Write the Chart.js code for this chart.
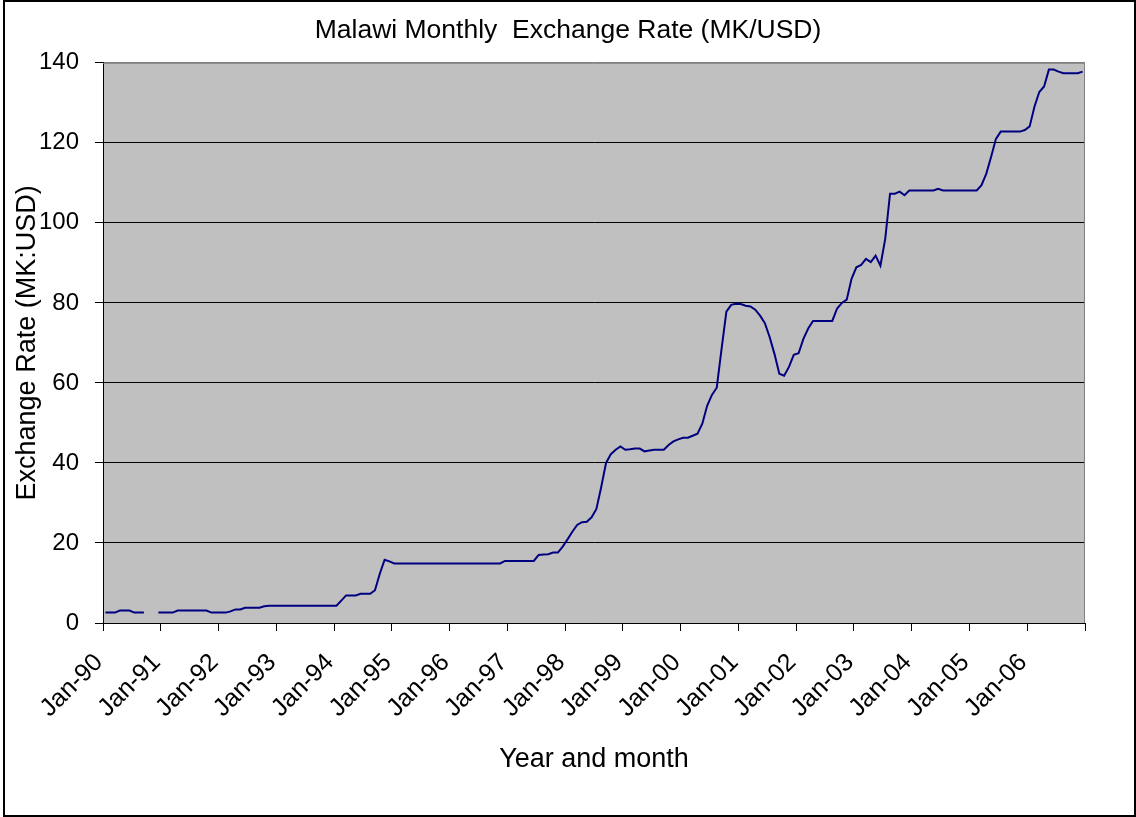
<!DOCTYPE html>
<html>
<head>
<meta charset="utf-8">
<title>Malawi Monthly Exchange Rate</title>
<script src="https://cdn.jsdelivr.net/npm/chart.js@4.4.1/dist/chart.umd.min.js"></script>
<style>
    body { margin: 0; background: #fff; }
    canvas { display: block; }
</style>
</head>
<body>
<canvas id="myChart" width="1136" height="817"></canvas>
<script>
// monthly MK per USD, Jan..Dec of each year (null = no data)
const rates1990 = [2.6, 2.6, 2.6, 3.1, 3.1, 3.1, 2.6, 2.6, 2.6, null, null, 2.6];
const rates1991 = [2.6, 2.6, 2.6, 3.1, 3.1, 3.1, 3.1, 3.1, 3.1, 3.1, 2.6, 2.6];
const rates1992 = [2.6, 2.6, 2.9, 3.4, 3.4, 3.8, 3.8, 3.8, 3.8, 4.2, 4.3, 4.3];
const rates1993 = [4.3, 4.3, 4.3, 4.3, 4.3, 4.3, 4.3, 4.3, 4.3, 4.3, 4.3, 4.3];
const rates1994 = [4.3, 5.6, 6.9, 6.9, 6.9, 7.3, 7.3, 7.3, 8.2, 12.3, 15.8, 15.4];
const rates1995 = [14.9, 14.9, 14.9, 14.9, 14.9, 14.9, 14.9, 14.9, 14.9, 14.9, 14.9, 14.9];
const rates1996 = [14.9, 14.9, 14.9, 14.9, 14.9, 14.9, 14.9, 14.9, 14.9, 14.9, 14.9, 15.5];
const rates1997 = [15.5, 15.5, 15.5, 15.5, 15.5, 15.5, 17.0, 17.1, 17.2, 17.6, 17.6, 19.1];
const rates1998 = [20.9, 22.8, 24.5, 25.2, 25.3, 26.4, 28.5, 34.0, 40.0, 42.2, 43.3, 44.1];
const rates1999 = [43.3, 43.4, 43.6, 43.6, 42.9, 43.1, 43.3, 43.3, 43.3, 44.5, 45.4, 45.9];
const rates2000 = [46.3, 46.3, 46.8, 47.3, 49.8, 54.3, 57.0, 58.8, 68.5, 77.8, 79.5, 79.8];
const rates2001 = [79.7, 79.3, 79.1, 78.3, 76.8, 74.9, 71.4, 67.2, 62.3, 61.8, 64.0, 67.0];
const rates2002 = [67.4, 71.0, 73.6, 75.5, 75.5, 75.5, 75.5, 75.5, 78.6, 80.0, 80.8, 86.0];
const rates2003 = [88.9, 89.5, 91.0, 90.2, 91.8, 89.3, 96.0, 107.3, 107.3, 107.8, 106.9, 108.1];
const rates2004 = [108.1, 108.1, 108.1, 108.1, 108.1, 108.5, 108.1, 108.1, 108.1, 108.1, 108.1, 108.1];
const rates2005 = [108.1, 108.1, 109.4, 112.3, 116.5, 121.0, 122.8, 122.8, 122.8, 122.8, 122.8, 123.2];
const rates2006 = [124.1, 129.0, 132.7, 134.1, 138.3, 138.3, 137.8, 137.4, 137.4, 137.4, 137.4, 137.8];

const yearLabels = ['Jan-90', 'Jan-91', 'Jan-92', 'Jan-93', 'Jan-94', 'Jan-95', 'Jan-96', 'Jan-97', 'Jan-98',
    'Jan-99', 'Jan-00', 'Jan-01', 'Jan-02', 'Jan-03', 'Jan-04', 'Jan-05', 'Jan-06'];
const yTicks = [0, 20, 40, 60, 80, 100, 120, 140];

const FONT = '"Liberation Sans", Arial, sans-serif';

document.addEventListener('DOMContentLoaded', () => {
    const allRates = [].concat(rates1990, rates1991, rates1992, rates1993, rates1994, rates1995,
        rates1996, rates1997, rates1998, rates1999, rates2000, rates2001, rates2002, rates2003,
        rates2004, rates2005, rates2006);

    // each month sits in the middle of its slot, like Excel's date axis
    const points = allRates.map((v, i) => ({ x: i + 0.5, y: v }));
    const months = allRates.length;

    // gray plot area with the thin border on top/right, plus the outer frame
    const frame = {
        id: 'frame',
        beforeDraw(chart) {
            const { ctx, chartArea: a } = chart;
            ctx.save();
            ctx.fillStyle = '#c0c0c0';
            ctx.fillRect(a.left, a.top, a.right - a.left, a.bottom - a.top);
            ctx.restore();
        },
        beforeDatasetsDraw(chart) {
            const { ctx, chartArea: a } = chart;
            ctx.save();
            ctx.strokeStyle = '#808080';
            ctx.lineWidth = 1;
            ctx.beginPath();
            ctx.moveTo(a.left, a.top + 0.5);
            ctx.lineTo(a.right - 0.5, a.top + 0.5);
            ctx.lineTo(a.right - 0.5, a.bottom);
            ctx.stroke();
            ctx.restore();
        },
        afterDraw(chart) {
            const ctx = chart.ctx;
            ctx.save();
            ctx.strokeStyle = '#000';
            ctx.lineWidth = 2;
            ctx.strokeRect(4, 1, 1131, 815);
            ctx.restore();
        }
    };

    const ctx = document.getElementById('myChart').getContext('2d');
    new Chart(ctx, {
        type: 'line',
        data: {
            datasets: [{
                label: 'MK/USD',
                data: points,
                borderColor: '#000080',
                borderWidth: 2,
                pointRadius: 0,
                tension: 0,
                spanGaps: false
            }]
        },
        options: {
            responsive: false,
            animation: false,
            devicePixelRatio: 1,
            layout: { padding: 0 },
            plugins: {
                legend: { display: false },
                tooltip: { enabled: false },
                title: {
                    display: true,
                    text: 'Malawi Monthly  Exchange Rate (MK/USD)',
                    color: '#000',
                    font: { family: FONT, size: 26.5, weight: 'normal' },
                    padding: { top: 15, bottom: 16 }
                }
            },
            scales: {
                x: {
                    type: 'linear',
                    min: 0,
                    max: months,
                    afterFit(scale) { scale.height = 194; },
                    border: { color: '#000', width: 1 },
                    grid: {
                        drawOnChartArea: false,
                        tickLength: 8,
                        color: '#000'
                    },
                    ticks: {
                        stepSize: 12,
                        autoSkip: false,
                        minRotation: 45,
                        maxRotation: 45,
                        padding: 17,
                        labelOffset: -4,
                        color: '#000',
                        font: { family: FONT, size: 25 },
                        callback: function(value) {
                            return yearLabels[value / 12] || '';
                        }
                    },
                    title: {
                        display: true,
                        text: 'Year and month',
                        color: '#000',
                        font: { family: FONT, size: 27 },
                        padding: { top: 0, bottom: 41 }
                    }
                },
                y: {
                    min: yTicks[0],
                    max: yTicks[yTicks.length - 1],
                    afterFit(scale) { scale.width = 103; },
                    border: { color: '#000', width: 1 },
                    grid: {
                        color: (c) => (c.tick && c.tick.value === 140 ? '#808080' : '#000'),
                        tickColor: '#000',
                        tickLength: 8
                    },
                    ticks: {
                        stepSize: 20,
                        padding: 16,
                        color: '#000',
                        font: { family: FONT, size: 24 }
                    },
                    title: {
                        display: true,
                        text: 'Exchange Rate (MK:USD)',
                        color: '#000',
                        font: { family: FONT, size: 27 },
                        padding: { top: 11, bottom: 0 }
                    }
                },
                // empty strip on the right so the plot ends where the reference does
                yRight: {
                    position: 'right',
                    min: 0,
                    max: 140,
                    afterFit(scale) { scale.width = 51; },
                    border: { display: false },
                    grid: { display: false },
                    ticks: { display: false }
                }
            }
        },
        plugins: [frame]
    });
});
</script>
</body>
</html>
